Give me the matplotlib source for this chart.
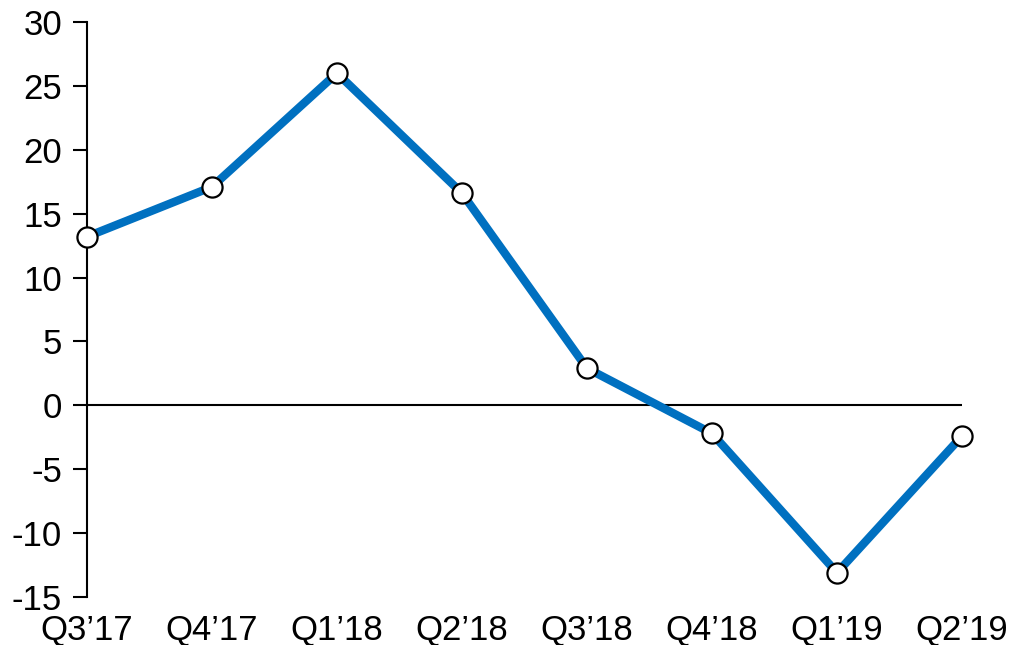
import matplotlib
matplotlib.use("Agg")
import matplotlib.pyplot as plt

# quarters and values
quarters = ["Q3’17", "Q4’17", "Q1’18", "Q2’18", "Q3’18", "Q4’18", "Q1’19", "Q2’19"]
values = [13.2, 17.1, 26.0, 16.6, 2.9, -2.2, -13.1, -2.4]
yticks = [-15, -10, -5, 0, 5, 10, 15, 20, 25, 30]

plt.rcParams['font.family'] = ['Liberation Sans', 'DejaVu Sans']

fig = plt.figure(figsize=(10.1, 6.45), dpi=100)
ax = fig.add_axes([0.0861, 0.0744, 0.8664, 0.8915])

x = list(range(len(quarters)))
ax.axhline(0, color='black', lw=1.5, xmin=0, xmax=1, zorder=1)
ax.plot(x, values, color='#0070C0', lw=6, marker='o', markersize=14.5,
        markerfacecolor='white', markeredgecolor='black', markeredgewidth=1.6,
        zorder=3, clip_on=False)

ax.set_xlim(0, len(quarters) - 1)
ax.set_ylim(-15, 30)
ax.set_yticks(yticks)
ax.set_yticklabels([str(v) for v in yticks])
ax.set_xticks(x)
ax.set_xticklabels(quarters)

for s in ['top', 'right', 'bottom']:
    ax.spines[s].set_visible(False)
ax.spines['left'].set_linewidth(1.5)
ax.tick_params(axis='y', direction='out', length=10, width=1.5, labelsize=25, pad=8)
ax.tick_params(axis='x', length=0, labelsize=25, pad=12)

fig.savefig("out.png", dpi=100)
